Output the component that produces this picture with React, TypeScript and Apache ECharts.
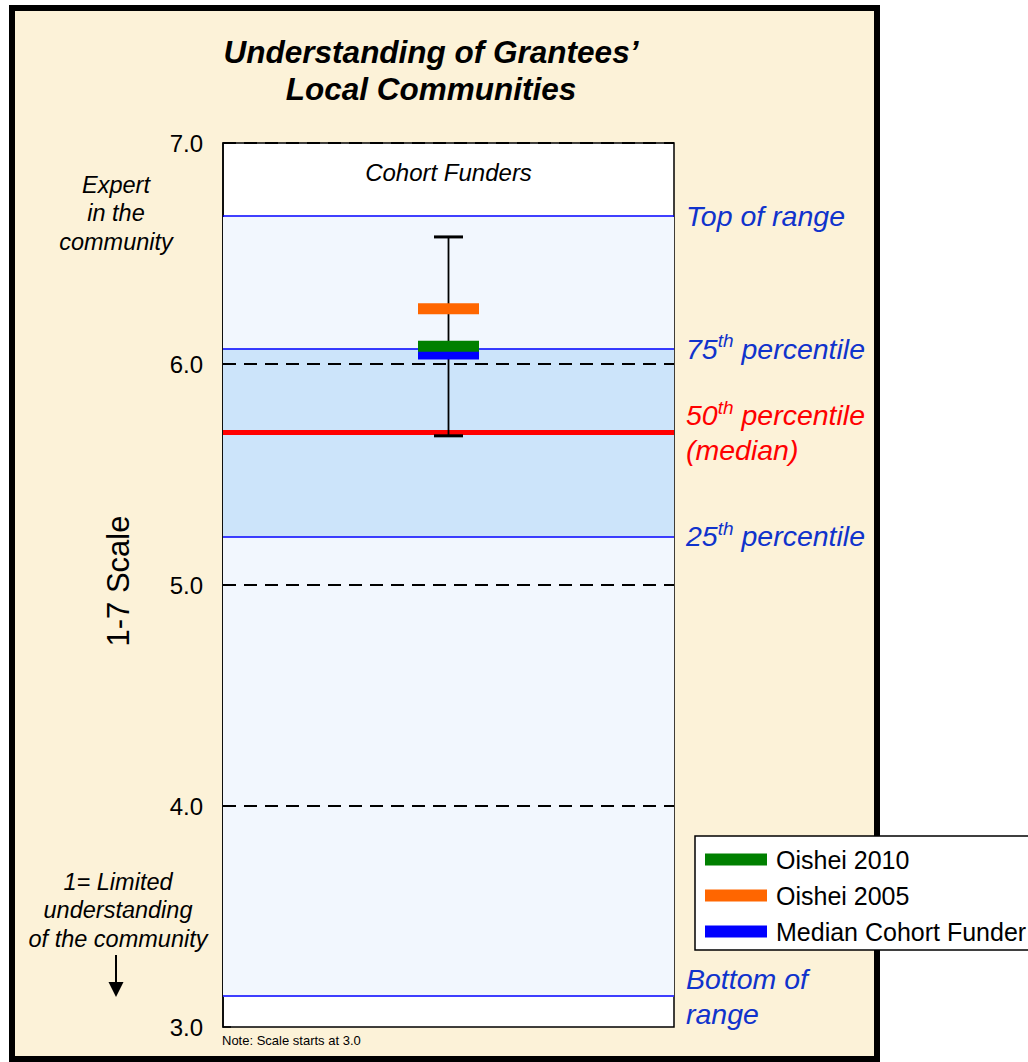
import React, { useEffect, useRef } from "react";
import * as echarts from "echarts";

const FONT = "'Liberation Sans', Arial, Helvetica, sans-serif";

const categories = ["Cohort Funders"];
const yTickLabels = ["3.0", "4.0", "5.0", "6.0", "7.0"];
const gridValues = [4, 5, 6, 7];

// Range lines (1-7 scale)
const topOfRange = 6.665;
const percentile75 = 6.07;
const median50 = 5.69;
const percentile25 = 5.22;
const bottomOfRange = 3.137;

// Error bar (low, high)
const errorBar = [5.675, 6.575];

// Markers
const oishei2010 = [6.08];
const oishei2005 = [6.25];
const medianCohortFunder = [6.045];

const BLUE_TXT = "#1033CC";

export default function App() {
  const ref = useRef<HTMLDivElement>(null);

  useEffect(() => {
    if (!ref.current) return;
    const chart = echarts.init(ref.current, null, { renderer: "svg" });

    const sup = (color: string) => ({
      fontSize: 19,
      fontStyle: "italic",
      fontFamily: FONT,
      color,
      verticalAlign: "top",
      lineHeight: 24,
    });
    const main = (color: string) => ({
      fontSize: 28.5,
      fontStyle: "italic",
      fontFamily: FONT,
      color,
      lineHeight: 35,
    });
    const lineLabel = (color: string, formatter: string) => ({
      show: true,
      position: "end",
      distance: 12,
      formatter,
      rich: { n: main(color), s: sup(color) },
    });

    const option: any = {
      animation: false,
      textStyle: { fontFamily: FONT },
      title: {
        text: "Understanding of Grantees’\nLocal Communities",
        left: 431,
        top: 33,
        padding: 0,
        textAlign: "center",
        textStyle: {
          fontFamily: FONT,
          fontSize: 31.5,
          fontWeight: "bold",
          fontStyle: "italic",
          color: "#000",
          lineHeight: 37,
        },
      },
      grid: {
        left: 223,
        right: 354,
        top: 143,
        bottom: 35,
        show: true,
        backgroundColor: "#ffffff",
        borderColor: "#000",
        borderWidth: 1.5,
      },
      legend: {
        data: ["Oishei 2010", "Oishei 2005", "Median Cohort Funder"],
        orient: "vertical",
        left: 695,
        top: 836,
        icon: "rect",
        itemWidth: 62,
        itemHeight: 12,
        itemGap: 11,
        padding: [11, 30, 6, 10],
        backgroundColor: "#ffffff",
        borderColor: "#000",
        borderWidth: 1.5,
        selectedMode: false,
        textStyle: { fontSize: 25, color: "#000", fontFamily: FONT, padding: [0, 0, 0, 4] },
      },
      xAxis: {
        type: "category",
        data: categories,
        position: "top",
        axisLine: { show: false },
        axisTick: { show: false },
        axisLabel: {
          inside: true,
          margin: 17,
          fontSize: 24,
          fontStyle: "italic",
          color: "#000",
          fontFamily: FONT,
        },
      },
      yAxis: {
        type: "value",
        min: 3,
        max: 7,
        interval: 1,
        axisLine: { show: true, lineStyle: { color: "#000", width: 1.5 } },
        axisTick: { show: true, inside: true, length: 8, lineStyle: { color: "#000", width: 1.5 } },
        splitLine: { show: false },
        axisLabel: {
          margin: 20,
          fontSize: 24,
          color: "#000",
          fontFamily: FONT,
          formatter: (v: number) => yTickLabels[Math.round(v) - 3] ?? v.toFixed(1),
        },
      },
      series: [
        {
          name: "bands",
          type: "line",
          data: [],
          silent: true,
          markArea: {
            z: 1,
            silent: true,
            data: [
              [{ yAxis: bottomOfRange, itemStyle: { color: "#F2F7FE" } }, { yAxis: topOfRange }],
              [{ yAxis: percentile25, itemStyle: { color: "#CCE4FA" } }, { yAxis: percentile75 }],
            ],
          },
          markLine: {
            z: 3,
            silent: true,
            symbol: "none",
            label: { show: false },
            lineStyle: { color: "#000", width: 2, type: [13, 8] },
            data: gridValues.map((v) => ({ yAxis: v })),
          },
        },
        {
          name: "ranges",
          type: "line",
          data: [],
          silent: true,
          markLine: {
            z: 4,
            silent: true,
            symbol: "none",
            data: [
              {
                yAxis: topOfRange,
                lineStyle: { color: "#0000FF", width: 1.5, type: "solid" },
                label: lineLabel(BLUE_TXT, "{n|Top of range}"),
              },
              {
                yAxis: percentile75,
                lineStyle: { color: "#0000FF", width: 1.5, type: "solid" },
                label: lineLabel(BLUE_TXT, "{n|75}{s|th}{n| percentile}"),
              },
              {
                yAxis: median50,
                lineStyle: { color: "#FF0000", width: 5, type: "solid" },
                label: lineLabel("#FF0000", "{n|50}{s|th}{n| percentile}\n{n|(median)}"),
              },
              {
                yAxis: percentile25,
                lineStyle: { color: "#0000FF", width: 1.5, type: "solid" },
                label: lineLabel(BLUE_TXT, "{n|25}{s|th}{n| percentile}"),
              },
              {
                yAxis: bottomOfRange,
                lineStyle: { color: "#0000FF", width: 1.5, type: "solid" },
                label: lineLabel(BLUE_TXT, "{n|Bottom of}\n{n|range}"),
              },
            ],
          },
        },
        {
          name: "Range",
          type: "custom",
          z: 8,
          silent: true,
          encode: { x: 0, y: [1, 2] },
          data: [[0, errorBar[0], errorBar[1]]],
          renderItem: (params: any, api: any) => {
            const lo = api.coord([api.value(0), api.value(1)]);
            const hi = api.coord([api.value(0), api.value(2)]);
            const hw = 14.5;
            return {
              type: "group",
              children: [
                { type: "line", shape: { x1: lo[0], y1: lo[1], x2: hi[0], y2: hi[1] }, style: { stroke: "#000", lineWidth: 1.8 } },
                { type: "line", shape: { x1: hi[0] - hw, y1: hi[1], x2: hi[0] + hw, y2: hi[1] }, style: { stroke: "#000", lineWidth: 3 } },
                { type: "line", shape: { x1: lo[0] - hw, y1: lo[1], x2: lo[0] + hw, y2: lo[1] }, style: { stroke: "#000", lineWidth: 3 } },
              ],
            };
          },
        },
        {
          name: "Median Cohort Funder",
          type: "scatter",
          z: 10,
          silent: true,
          symbol: "rect",
          symbolSize: [61, 11],
          itemStyle: { color: "#0000FF", opacity: 1 },
          data: medianCohortFunder.map((v) => [0, v]),
        },
        {
          name: "Oishei 2005",
          type: "scatter",
          z: 10,
          silent: true,
          symbol: "rect",
          symbolSize: [61, 11],
          itemStyle: { color: "#FF6600", opacity: 1 },
          data: oishei2005.map((v) => [0, v]),
        },
        {
          name: "Oishei 2010",
          type: "scatter",
          z: 11,
          silent: true,
          symbol: "rect",
          symbolSize: [61, 11],
          itemStyle: { color: "#008000", opacity: 1 },
          data: oishei2010.map((v) => [0, v]),
        },
      ],
      graphic: [
        {
          type: "text",
          x: 116,
          y: 213,
          style: {
            text: "Expert\nin the\ncommunity",
            align: "center",
            verticalAlign: "middle",
            fontSize: 23.5,
            fontStyle: "italic",
            fontFamily: FONT,
            lineHeight: 28.5,
            fill: "#000",
          },
        },
        {
          type: "text",
          x: 118,
          y: 910,
          style: {
            text: "1= Limited\nunderstanding\nof the community",
            align: "center",
            verticalAlign: "middle",
            fontSize: 23.5,
            fontStyle: "italic",
            fontFamily: FONT,
            lineHeight: 28.5,
            fill: "#000",
          },
        },
        {
          type: "line",
          shape: { x1: 116, y1: 955, x2: 116, y2: 985 },
          style: { stroke: "#000", lineWidth: 2 },
        },
        {
          type: "polygon",
          shape: { points: [[108.5, 982], [123.5, 982], [116, 997]] },
          style: { fill: "#000" },
        },
        {
          type: "text",
          x: 118,
          y: 581,
          rotation: Math.PI / 2,
          style: {
            text: "1-7 Scale",
            align: "center",
            verticalAlign: "middle",
            fontSize: 31,
            fontFamily: FONT,
            fill: "#000",
          },
        },
        {
          type: "text",
          x: 222,
          y: 1040,
          style: {
            text: "Note: Scale starts at 3.0",
            align: "left",
            verticalAlign: "middle",
            fontSize: 13,
            fontFamily: FONT,
            fill: "#000",
          },
        },
      ],
    };

    chart.setOption(option);
    return () => chart.dispose();
  }, []);

  return (
    <div style={{ position: "absolute", left: 0, top: 0, width: 1028, height: 1062, background: "#fff" }}>
      <div
        style={{
          position: "absolute",
          left: 9,
          top: 5,
          width: 871,
          height: 1057,
          boxSizing: "border-box",
          border: "6px solid #000",
          background: "#FCF2D8",
        }}
      />
      <div ref={ref} style={{ position: "absolute", left: 0, top: 0, width: 1028, height: 1062 }} />
    </div>
  );
}
